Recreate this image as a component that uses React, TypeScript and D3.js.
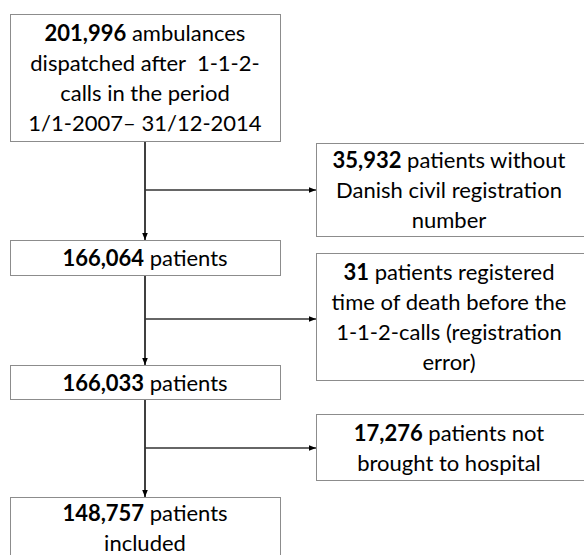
import React from "react";
import * as d3 from "d3";

// Flow steps (main column)
const mainCounts = ["201,996", "166,064", "166,033", "148,757"];
const mainTexts = [
  [" ambulances", "dispatched after  1-1-2-", "calls in the period", "1/1-2007\u2013 31/12-2014"],
  [" patients"],
  [" patients"],
  [" patients", "included"],
];
// Exclusions (side column)
const exclCounts = ["35,932", "31", "17,276"];
const exclTexts = [
  [" patients without", "Danish civil registration", "number"],
  [" patients registered", "time of death before the", "1-1-2-calls (registration", "error)"],
  [" patients not", "brought to hospital"],
];

const W = 584;
const H = 555;
const FONT = "Lato, 'Liberation Sans', sans-serif";
const FS = 22;
const LH = 30;

const mainBoxes = [
  { y0: 14, y1: 141 },
  { y0: 240, y1: 275 },
  { y0: 365, y1: 399 },
  { y0: 497, y1: 557 },
];
const exclBoxes = [
  { y0: 143, y1: 236, ay: 190 },
  { y0: 253, y1: 380, ay: 319 },
  { y0: 414, y1: 480, ay: 448 },
];

const x = d3.scaleLinear().domain([0, W]).range([0, W]);

function BoxText({ cx, cy, count, lines }: { cx: number; cy: number; count: string; lines: string[] }) {
  const n = lines.length;
  return (
    <text fontFamily={FONT} fontSize={FS} fill="#000" textAnchor="middle" style={{ whiteSpace: "pre" }}>
      {lines.map((l, i) => (
        <tspan key={i} x={cx} y={cy + (i - (n - 1) / 2) * LH} dominantBaseline="central">
          {i === 0 ? (
            <>
              <tspan fontWeight="bold">{count}</tspan>
              {l}
            </>
          ) : (
            l
          )}
        </tspan>
      ))}
    </text>
  );
}

export default function App() {
  const mx0 = x(10), mx1 = x(280), mcx = x(145);
  const ex0 = x(316), ex1 = x(588);
  return (
    <svg width={W} height={H} style={{ position: "absolute", left: 0, top: 0, background: "#fff" }}>
      <defs>
        <marker id="arr" viewBox="0 0 10 10" refX="10" refY="5" markerWidth="5" markerHeight="5" orient="auto">
          <path d="M0,1 L10,5 L0,9 z" fill="#000" />
        </marker>
      </defs>
      <rect width={W} height={H} fill="#fff" />
      {mainBoxes.slice(0, -1).map((b, i) => (
        <line key={"v" + i} x1={mcx} x2={mcx} y1={b.y1} y2={mainBoxes[i + 1].y0} stroke="#000" strokeWidth={1.5} markerEnd="url(#arr)" />
      ))}
      {exclBoxes.map((b, i) => (
        <line key={"h" + i} x1={mcx} x2={ex0} y1={b.ay} y2={b.ay} stroke="#333" strokeWidth={1.5} markerEnd="url(#arr)" />
      ))}
      {mainBoxes.map((b, i) => (
        <g key={"m" + i}>
          <rect x={mx0 + 0.5} y={b.y0 + 0.5} width={mx1 - mx0} height={b.y1 - b.y0} fill="#fff" stroke="#8c8c8c" strokeWidth={1} />
          <BoxText cx={mcx} cy={(b.y0 + b.y1) / 2} count={mainCounts[i]} lines={mainTexts[i]} />
        </g>
      ))}
      {exclBoxes.map((b, i) => (
        <g key={"e" + i}>
          <rect x={ex0 + 0.5} y={b.y0 + 0.5} width={ex1 - ex0} height={b.y1 - b.y0} fill="#fff" stroke="#8c8c8c" strokeWidth={1} />
          <BoxText cx={x(449)} cy={(b.y0 + b.y1) / 2} count={exclCounts[i]} lines={exclTexts[i]} />
        </g>
      ))}
    </svg>
  );
}
